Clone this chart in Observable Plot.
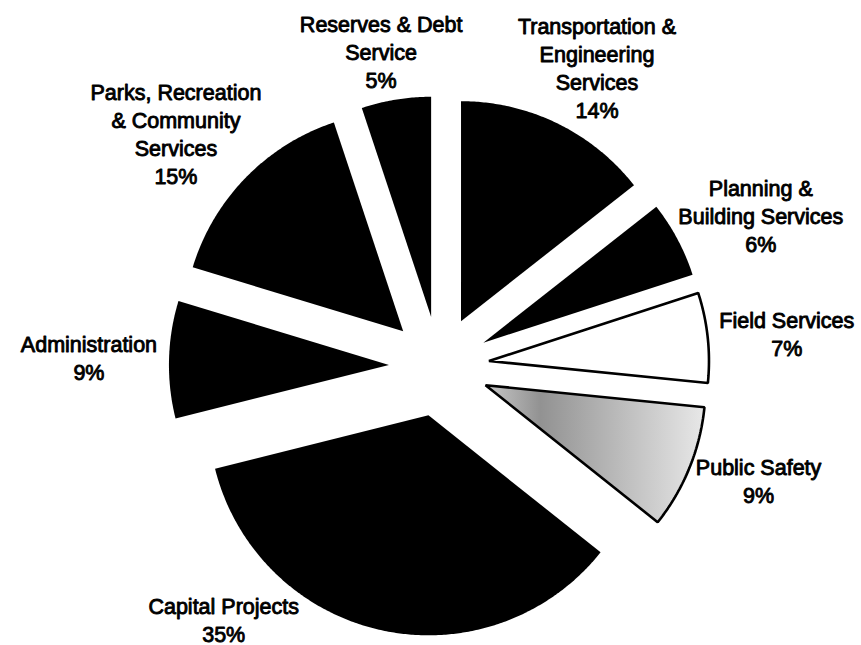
<!DOCTYPE html>
<html>
<head>
<meta charset="utf-8">
<script src="https://cdn.jsdelivr.net/npm/d3@7"></script>
<script src="https://cdn.jsdelivr.net/npm/@observablehq/plot@0.6"></script>
<style>
  html, body { margin: 0; padding: 0; background: #fff; }
</style>
</head>
<body>
<div id="chart"></div>
<script>
// ---- data ----
const categories = [
  "Transportation &\nEngineering\nServices",
  "Planning &\nBuilding Services",
  "Field Services",
  "Public Safety",
  "Capital Projects",
  "Administration",
  "Parks, Recreation\n& Community\nServices",
  "Reserves & Debt\nService"
];
const shares = [14.4, 5.6, 6.6, 9.1, 35.4, 8.6, 15.2, 5.1];

// ---- layout / style ----
const W = 861, H = 645;
const PX = 220;                 // pixels per unit of pie radius
const CX = 438.6, CY = 365.8;   // pie centre (pixels)
const EXPLODE = 0.228;          // explosion, in radius units
const FONT_PX = 21.5, LINE_PX = 28, CAP_PX = 15.4;
const LABEL_PAD = 12, CLAMP_PAD = 4, BOTTOM_PAD = 4;
const FONT = '"Liberation Sans", Arial, Helvetica, sans-serif';
const fillFor = {"Field Services": "#ffffff", "Public Safety": "url(#ps-shade)"};

// ---- geometry from the data ----
const arcs = d3.pie().sort(null).value(d => d)(shares);
const points = [];
const labels = [];
const ctx = document.createElement("canvas").getContext("2d");
ctx.font = `${FONT_PX}px ${FONT}`;

arcs.forEach((a, i) => {
  const cat = categories[i];
  const mid = (a.startAngle + a.endAngle) / 2;
  const ox = EXPLODE * Math.sin(mid), oy = EXPLODE * Math.cos(mid);
  const plain = cat.replace(/\n/g, " ");
  const style = fillFor[plain] || "#000000";
  points.push({cat: plain, style, x: ox, y: oy});
  const n = Math.max(2, Math.ceil((a.endAngle - a.startAngle) / (Math.PI / 360)));
  for (let k = 0; k <= n; ++k) {
    const t = a.startAngle + (a.endAngle - a.startAngle) * k / n;
    points.push({cat: plain, style, x: ox + Math.sin(t), y: oy + Math.cos(t)});
  }

  // label: outside end of the slice, kept within the picture
  const text = cat + "\n" + Math.round(shares[i]) + "%";
  const lines = text.split("\n");
  const w = Math.max(...lines.map(l => ctx.measureText(l).width));
  const h = (lines.length - 1) * LINE_PX + CAP_PX;
  const ux = Math.sin(mid), uy = -Math.cos(mid);          // screen direction
  const cx = CX + EXPLODE * PX * ux, cy = CY + EXPLODE * PX * uy;
  let bx = cx + (PX + LABEL_PAD) * ux + ux * w / 2;
  let by = cy + (PX + LABEL_PAD) * uy + uy * h / 2;
  if (by + h / 2 > H - BOTTOM_PAD) {
    by = H - BOTTOM_PAD - h / 2;
    const dy = (by - h / 2) - cy;
    const R = PX + CLAMP_PAD;
    const dx = Math.sqrt(Math.max(0, R * R - dy * dy));
    bx = ux < 0 ? cx - dx - w / 2 : cx + dx + w / 2;
  }
  labels.push({text, x: (bx - CX) / PX, y: (CY - (by + h / 2)) / PX});
});

const byStyle = s => points.filter(p => p.style === s);

const chart = Plot.plot({
  width: W,
  height: H,
  margin: 0,
  style: {background: "#fff", overflow: "visible"},
  x: {domain: [-CX / PX, (W - CX) / PX], range: [0, W], axis: null},
  y: {domain: [(CY - H) / PX, CY / PX], range: [H, 0], axis: null},
  marks: [
    Plot.line(byStyle("#000000"), {x: "x", y: "y", z: "cat", fill: "#000", stroke: "none", curve: "linear-closed"}),
    Plot.line(byStyle("#ffffff"), {x: "x", y: "y", z: "cat", fill: "#fff", stroke: "#000", strokeWidth: 2.6, strokeLinejoin: "miter", curve: "linear-closed"}),
    Plot.line(byStyle("url(#ps-shade)"), {x: "x", y: "y", z: "cat", fill: "url(#ps-shade)", stroke: "#000", strokeWidth: 2.6, strokeLinejoin: "miter", curve: "linear-closed"}),
    Plot.text(labels, {
      x: "x", y: "y", text: "text",
      textAnchor: "middle", lineAnchor: "bottom", lineHeight: LINE_PX / FONT_PX,
      fontFamily: FONT, fontSize: FONT_PX, fill: "#000", stroke: "#000", strokeWidth: 0.9
    })
  ]
});

// shading for the Public Safety slice
const defs = d3.select(chart).insert("defs", ":first-child");
const grad = defs.append("linearGradient").attr("id", "ps-shade")
  .attr("x1", 0).attr("x2", 1).attr("y1", 0).attr("y2", 0);
[[0, "#c8c8c8"], [0.25, "#929292"], [0.55, "#b4b4b4"], [1, "#e8e8e8"]]
  .forEach(([o, c]) => grad.append("stop").attr("offset", o).attr("stop-color", c));

document.getElementById("chart").appendChild(chart);
</script>
</body>
</html>
